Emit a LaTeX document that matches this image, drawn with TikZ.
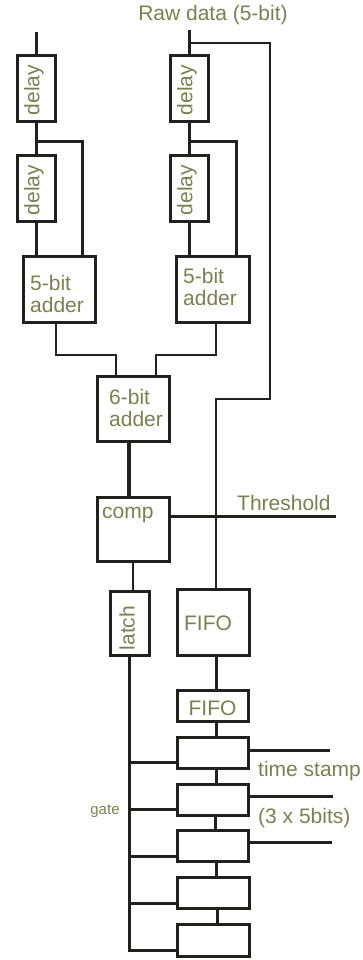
\documentclass[tikz,border=0pt]{standalone}
\usepackage{fontspec}
\setmainfont{Liberation Sans}
\definecolor{ink}{RGB}{35,31,28}
\definecolor{olive}{RGB}{125,126,82}
\tikzset{
  box/.style 2 args={draw=ink, line width=3pt, fill=white, minimum width=#1, minimum height=#2, inner sep=0pt},
  txt/.style={text=olive, font=\fontsize{21}{22}\selectfont, inner sep=0pt},
  smalltxt/.style={text=olive, font=\fontsize{15}{16}\selectfont, inner sep=0pt},
  thk/.style={draw=ink, line width=3pt},
  vthk/.style={draw=ink, line width=4pt},
  med/.style={draw=ink, line width=2.5pt},
  thn/.style={draw=ink, line width=2pt},
}
\begin{document}
\begin{tikzpicture}[x=1pt,y=-1pt]
\useasboundingbox (0,0) rectangle (363,960);
% boxes
\node[box={38pt}{66pt}] (d1) at (36,89) {};
\node[box={38pt}{66pt}] (d2) at (36,188.5) {};
\node[box={72pt}{66pt}] (a1) at (59,289) {};
\node[box={38pt}{66pt}] (d3) at (189.5,89) {};
\node[box={38pt}{66pt}] (d4) at (189.5,188.5) {};
\node[box={73pt}{66pt}] (a2) at (212.5,289) {};
\node[box={72pt}{65pt}] (a6) at (133,409) {};
\node[box={72pt}{64pt}] (cp) at (133,529) {};
\node[box={39pt}{64pt}] (la) at (129.5,623) {};
\node[box={72pt}{66pt}] (f1) at (213,622) {};
\node[box={71pt}{31pt}] (f2) at (212.5,705.5) {};
\node[box={71pt}{31pt}] (r1) at (212.5,752.5) {};
\node[box={71pt}{31pt}] (r2) at (212.5,799.5) {};
\node[box={71pt}{31pt}] (r3) at (212.5,846) {};
\node[box={72pt}{31pt}] (r4) at (213,893) {};
\node[box={72pt}{32pt}] (r5) at (213,940) {};
% texts
\node[txt] (raw) at (213,15) {Raw data (5-bit)};
\node[txt, rotate=90] (d1t) at (34,90) {delay};
\node[txt, rotate=90] (d2t) at (34,190) {delay};
\node[txt, rotate=90] (d3t) at (187,90) {delay};
\node[txt, rotate=90] (d4t) at (187,190) {delay};
\node[txt, align=left, anchor=west] (a1t) at (30,294) {5-bit\\adder};
\node[txt, align=left, anchor=west] (a2t) at (183,287) {5-bit\\adder};
\node[txt, align=left, anchor=west] (a6t) at (109,408) {6-bit\\adder};
\node[txt, anchor=west] (cpt) at (102,515) {comp};
\node[txt, anchor=west] (thrt) at (237,503) {Threshold};
\node[txt, rotate=90] (lat) at (127,628) {latch};
\node[txt] (f1t) at (208,623) {FIFO};
\node[txt] (f2t) at (212.5,708) {FIFO};
\node[txt, anchor=west] (tst) at (258,771) {time stamp};
\node[txt, anchor=west] (bitst) at (258,818) {(3 x 5bits)};
\node[smalltxt] (gatet) at (105,811) {gate};
% coordinates
\coordinate (in1) at (36,32);
\coordinate (b1) at (36,142);
\coordinate (in2) at (189.5,30);
\coordinate (b2) at (189.5,43);
\coordinate (b3) at (189.5,142);
\coordinate (k1) at (270,399);
\coordinate (jL) at (56,355);
\coordinate (jR) at (216,355);
\coordinate (thr) at (336,516);
\coordinate (t1) at ([yshift=-10pt]r1.west);
\coordinate (t2) at ([yshift=-10pt]r2.west);
\coordinate (t3) at ([yshift=-10pt]r3.west);
\coordinate (t4) at ([yshift=-10pt]r4.west);
\coordinate (t5) at ([yshift=-10pt]r5.west);
\coordinate (o1) at (330,750);
\coordinate (o2) at (333,796);
\coordinate (o3) at (332,842);
% left delay chain
\draw[thk] (in1) -- (d1.north);
\draw[thk] (d1.south) -- (d2.north);
\draw[thk] (b1) -| ([xshift=23pt]a1.north);
\draw[thk] (d2.south) -- (d2.south |- a1.north);
% right delay chain
\draw[thk] (in2) -- (d3.north);
\draw[thn] (b2) -| (k1) -| ([xshift=3pt]f1.north);
\draw[thk] (d3.south) -- (d4.north);
\draw[thk] (b3) -| ([xshift=23.5pt]a2.north);
\draw[thk] (d4.south) -- (d4.south |- a2.north);
% adders
\draw[med] (a1.south -| jL) -- (jL) -| ([xshift=-17pt]a6.north);
\draw[med] (a2.south -| jR) -- (jR) -| ([xshift=23pt]a6.north);
\draw[vthk] ([xshift=-4pt]a6.south) -- ([xshift=-4pt]cp.north);
\draw[thk] (cp.east |- thr) -- (thr);
\draw[med] (cp.south) -- (cp.south |- la.north);
% fifo chain
\draw[thk] ([xshift=3pt]f1.south) -- ([xshift=3pt]f1.south |- f2.north);
\draw[thk] ([xshift=3.5pt]f2.south) -- ([xshift=3.5pt]f2.south |- r1.north);
\draw[thk] ([xshift=3.5pt]r1.south) -- ([xshift=3.5pt]r1.south |- r2.north);
\draw[thk] ([xshift=3pt]r2.south) -- ([xshift=3pt]r2.south |- r3.north);
\draw[thk] ([xshift=4pt]r3.south) -- ([xshift=4pt]r3.south |- r4.north);
\draw[thk] ([xshift=4pt]r4.south) -- ([xshift=4pt]r4.south |- r5.north);
% gate bus
\draw[thk] (la.south) -- (t5 -| la.south) -- (t5);
\draw[thk] (t1 -| la.south) -- (t1);
\draw[thk] (t2 -| la.south) -- (t2);
\draw[thk] (t3 -| la.south) -- (t3);
\draw[thk] (t4 -| la.south) -- (t4);
% outputs
\draw[thk] (r1.east |- o1) -- (o1);
\draw[thk] (r2.east |- o2) -- (o2);
\draw[thk] (r3.east |- o3) -- (o3);
\end{tikzpicture}
\end{document}
